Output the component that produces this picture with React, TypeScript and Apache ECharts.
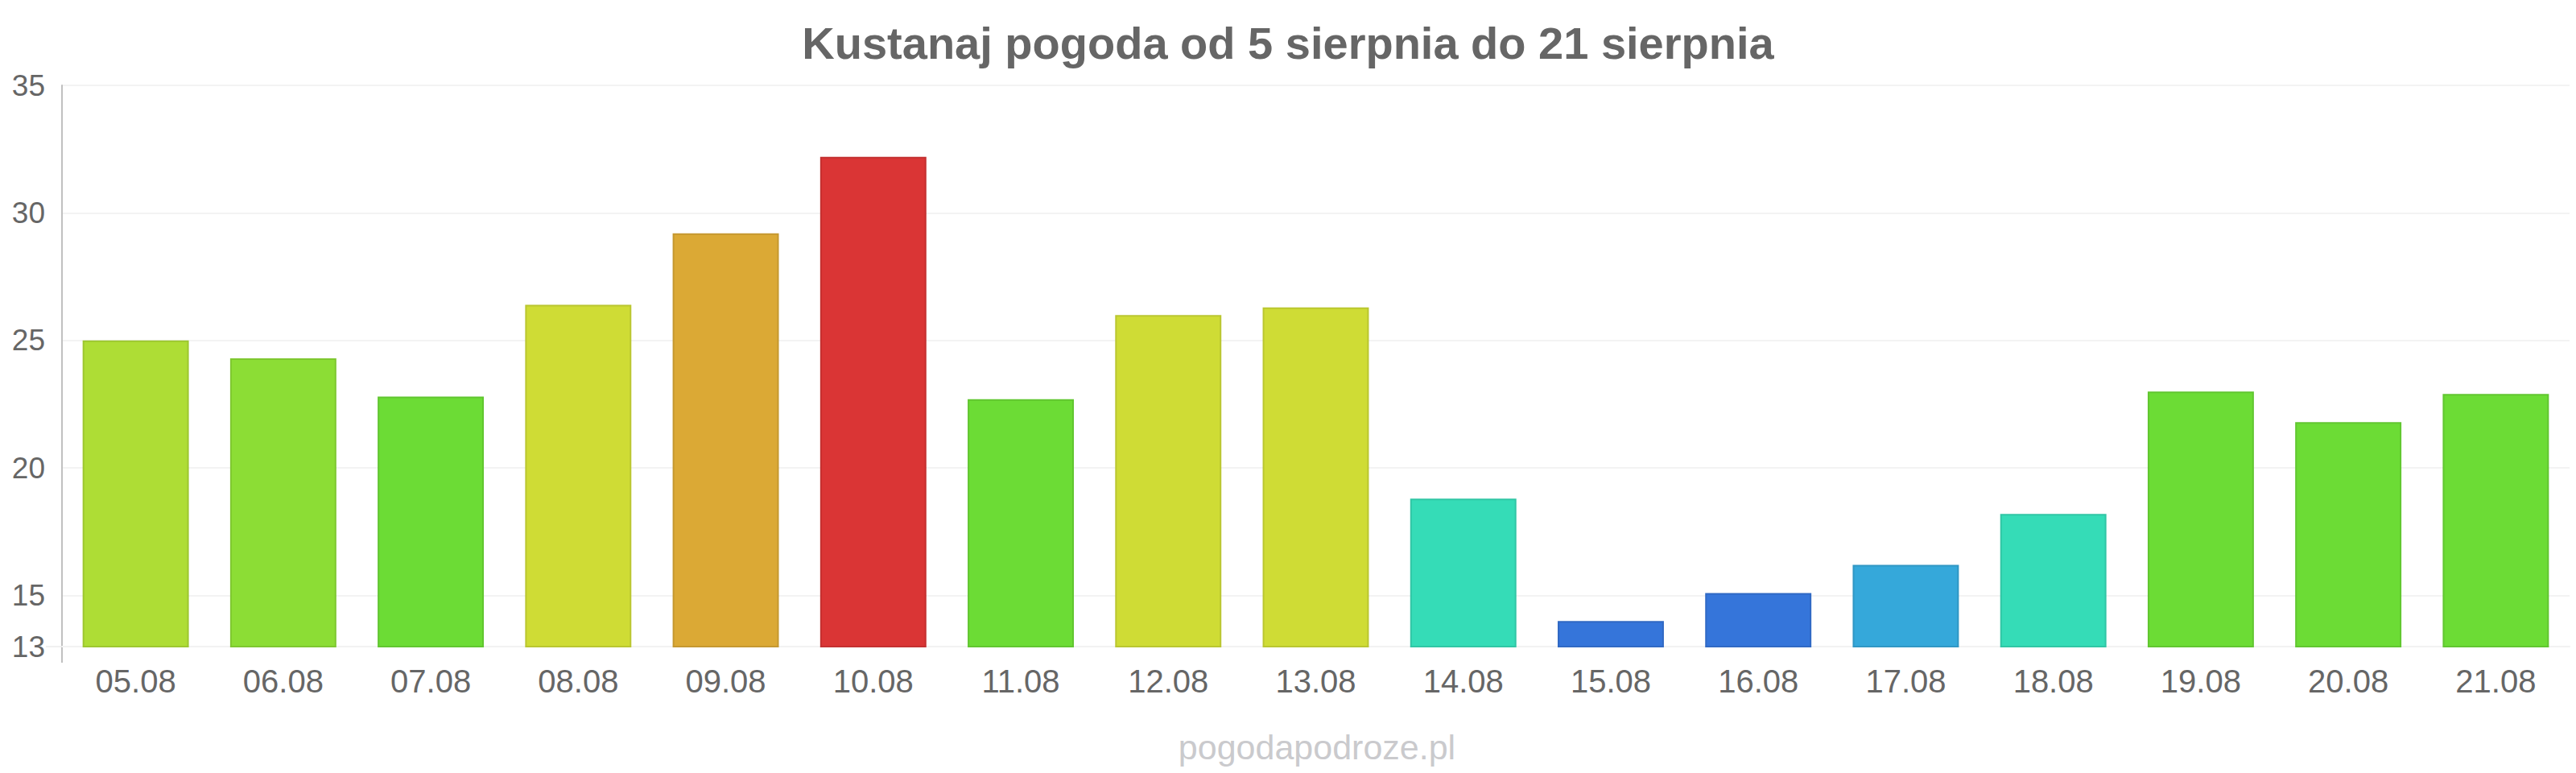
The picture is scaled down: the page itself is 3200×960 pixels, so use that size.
import React, { useEffect, useRef } from "react";
import * as echarts from "echarts";

const categories = [
  "05.08", "06.08", "07.08", "08.08", "09.08", "10.08", "11.08", "12.08", "13.08",
  "14.08", "15.08", "16.08", "17.08", "18.08", "19.08", "20.08", "21.08",
];
const temps = [25.0, 24.3, 22.8, 26.4, 29.2, 32.2, 22.7, 26.0, 26.3, 18.8, 14.0, 15.1, 16.2, 18.2, 23.0, 21.8, 22.9];
const barColors = [
  "#aedd35", "#8cdd35", "#6cdc35", "#cfdc35", "#dba935", "#da3535", "#6cdc35", "#cfdc35", "#cfdc35",
  "#35dcb7", "#3575da", "#3575da", "#35a8da", "#35dcb7", "#6cdc35", "#6cdc35", "#6cdc35",
];
const yLabels = [13, 15, 20, 25, 30, 35];
const titleText = "Kustanaj pogoda od 5 sierpnia do 21 sierpnia";
const watermark = "pogodapodroze.pl";

function darken(hex: string, f: number) {
  const n = parseInt(hex.slice(1), 16);
  const r = Math.round(((n >> 16) & 255) * f);
  const g = Math.round(((n >> 8) & 255) * f);
  const b = Math.round((n & 255) * f);
  return "rgb(" + r + "," + g + "," + b + ")";
}

export default function App() {
  const ref = useRef<HTMLDivElement>(null);
  useEffect(() => {
    document.body.style.margin = "0";
    const chart = echarts.init(ref.current!, undefined, { renderer: "svg" });
    const font = "'Liberation Sans', Arial, sans-serif";
    chart.setOption({
      animation: false,
      backgroundColor: "#ffffff",
      title: {
        text: titleText,
        left: "center",
        top: 20,
        textStyle: { fontFamily: font, fontSize: 56, fontWeight: "bold", color: "#666666" },
      },
      grid: { left: 77, right: 8, top: 106, bottom: 157 },
      xAxis: {
        type: "category",
        data: categories,
        axisLine: { show: true, lineStyle: { color: "#f2f2f2", width: 2 } },
        axisTick: { show: false },
        axisLabel: { fontFamily: font, fontSize: 40, color: "#666666", margin: 23 },
      },
      yAxis: {
        type: "value",
        min: 13,
        max: 35,
        interval: 1,
        axisLine: { show: true, lineStyle: { color: "#c0c0c0", width: 2 } },
        axisTick: { show: false },
        axisLabel: {
          fontFamily: font,
          fontSize: 37,
          color: "#666666",
          margin: 21,
          formatter: (v: number) => (yLabels.indexOf(v) >= 0 ? String(v) : ""),
        },
        splitLine: {
          show: true,
          lineStyle: {
            width: 2,
            color: ["transparent", "transparent", "#f3f3f3", "transparent", "transparent"],
          },
        },
      },
      series: [
        {
          type: "bar",
          barWidth: "72%",
          data: temps.map((v, i) => ({
            value: v,
            itemStyle: { color: barColors[i], borderColor: darken(barColors[i], 0.9), borderWidth: 2 },
          })),
        },
      ],
    });
    const p0 = chart.convertToPixel({ xAxisIndex: 0, yAxisIndex: 0 }, [0, 13]) as number[];
    const axisX = 77;
    const baseY = p0[1];
    chart.setOption({
      graphic: [
        {
          type: "line",
          shape: { x1: axisX - 20, y1: baseY, x2: axisX, y2: baseY },
          style: { stroke: "#f0f0f0", lineWidth: 2 },
        },
        {
          type: "line",
          shape: { x1: axisX, y1: baseY, x2: axisX, y2: baseY + 20 },
          style: { stroke: "#c0c0c0", lineWidth: 2 },
        },
        {
          type: "text",
          x: 1636,
          y: 928,
          style: {
            text: watermark,
            fontFamily: font,
            fontSize: 43,
            fill: "#cacacd",
            textAlign: "center",
            textVerticalAlign: "middle",
          },
        },
      ],
    });
    return () => chart.dispose();
  }, []);
  return (
    <div
      ref={ref}
      style={{ position: "fixed", left: 0, top: 0, width: 3200, height: 960, background: "#fff" }}
    />
  );
}
